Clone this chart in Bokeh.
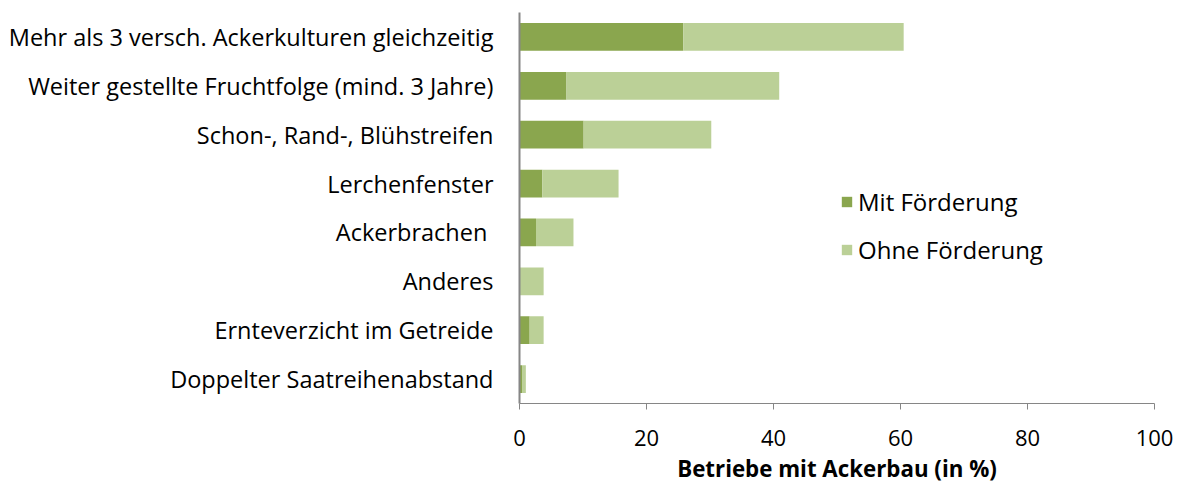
from bokeh.plotting import figure
from bokeh.models import FactorRange, Range1d, FixedTicker, ColumnDataSource, Legend
from bokeh.embed import file_html
from bokeh.resources import INLINE

categories = [
    "Mehr als 3 versch. Ackerkulturen gleichzeitig",
    "Weiter gestellte Fruchtfolge (mind. 3 Jahre)",
    "Schon-, Rand-, Blühstreifen",
    "Lerchenfenster",
    "Ackerbrachen ",
    "Anderes",
    "Ernteverzicht im Getreide",
    "Doppelter Saatreihenabstand",
]
mit_foerderung = [25.8, 7.4, 10.1, 3.6, 2.6, 0.0, 1.6, 0.4]
ohne_foerderung = [34.7, 33.5, 20.1, 12.0, 5.9, 3.8, 2.2, 0.6]
series_names = ["Mit Förderung", "Ohne Förderung"]
x_ticks = [0, 20, 40, 60, 80, 100]
x_title = "Betriebe mit Ackerbau (in %)"

FONT = "Open Sans"
dark = "#8AA64E"
light = "#BBD097"
axis_col = "#868686"

src = ColumnDataSource(dict(cat=categories, mit=mit_foerderung, ohne=ohne_foerderung))

p = figure(
    width=1180, height=486,
    y_range=FactorRange(*list(reversed(categories))),
    x_range=Range1d(0, 100),
    output_backend="svg", toolbar_location=None,
    min_border_left=519, min_border_right=26, min_border_top=12, min_border_bottom=81,
)
p.outline_line_color = None
p.xgrid.visible = False
p.ygrid.visible = False

r = p.hbar_stack(["mit", "ohne"], y="cat", height=0.57, source=src,
                 color=[dark, light], line_color=None)

legend = Legend(items=[(series_names[0], [r[0]]), (series_names[1], [r[1]])],
                location=(321, 137))
legend.glyph_width = 13
legend.glyph_height = 13
legend.label_text_font = FONT
legend.label_text_font_size = "24px"
legend.label_text_color = "#000000"
legend.label_height = 26
legend.label_standoff = 5
legend.spacing = 15
legend.padding = 0
legend.margin = 0
legend.border_line_alpha = 0
legend.background_fill_alpha = 0
p.add_layout(legend, "center")

p.xaxis.ticker = FixedTicker(ticks=x_ticks)
p.xaxis.axis_label = x_title
p.xaxis.axis_label_text_font = FONT
p.xaxis.axis_label_text_font_style = "bold"
p.xaxis.axis_label_text_font_size = "22.3px"
p.xaxis.axis_label_text_line_height = 1.0
p.xaxis.axis_label_text_color = "#000000"
p.xaxis.axis_label_standoff = 4
p.xaxis.major_label_text_font = FONT
p.xaxis.major_label_text_font_size = "22px"
p.xaxis.major_label_text_line_height = 1.0
p.xaxis.major_label_text_color = "#000000"
p.xaxis.major_label_standoff = 20
p.xaxis.major_tick_out = 6
p.xaxis.major_tick_in = 0
p.xaxis.minor_tick_out = 0
p.xaxis.minor_tick_in = 0
p.xaxis.axis_line_color = axis_col
p.xaxis.major_tick_line_color = axis_col

p.yaxis.major_label_text_font = FONT
p.yaxis.major_label_text_font_size = "23.5px"
p.yaxis.major_label_text_color = "#000000"
p.yaxis.major_label_standoff = 26
p.yaxis.major_tick_out = 0
p.yaxis.major_tick_in = 0
p.yaxis.axis_line_color = axis_col
p.yaxis.axis_line_width = 2

open("out.html", "w").write(file_html(p, INLINE))
